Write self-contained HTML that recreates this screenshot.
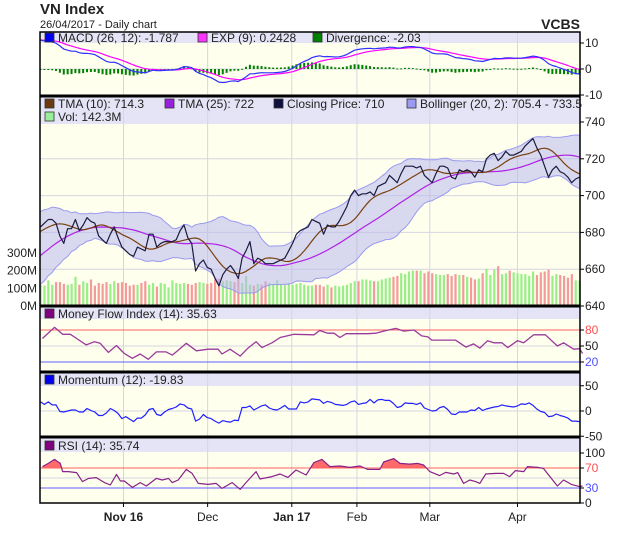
<!DOCTYPE html>
<html><head><meta charset="utf-8"><style>
body{margin:0;background:#fff;}
svg{display:block;font-family:"Liberation Sans",sans-serif;}
</style></head><body>
<svg id="c" width="620" height="535" viewBox="0 0 620 535">
<text x="40" y="14" font-size="15" font-weight="bold" fill="#222">VN Index</text>
<text x="40" y="28" font-size="11" fill="#222">26/04/2017 - Daily chart</text>
<text x="580" y="29" font-size="14" font-weight="bold" fill="#222" text-anchor="end">VCBS</text>
<g id="layer"></g>
</svg>
<script>
// ---- data ----
const priorClose=[615,620,617,624,621,628,625,631,629,635,632,639,636,642,640,646,643,650,647,653,651,657,654,661,658,664,662,668,665,672,669,675,673,679,676,682,680,685,683,686];
const close=[683,685,687,687,685,678,674,682,682,687,681,684,688,686,685,678,676,674,679,683,677,672,670,668,667,672,671,670,679,679,672,674,675,675,675,676,681,684,677,674,659,663,665,661,660,655,651,657,660,662,659,655,666,670,675,663,666,665,663,663,663,664,665,666,670,674,679,681,682,683,687,686,685,679,684,683,683,686,690,694,700,703,700,701,701,702,700,705,706,707,711,709,707,712,716,716,716,715,716,711,709,707,712,716,716,715,710,709,714,713,714,713,710,714,713,720,722,723,719,721,724,722,722,723,724,727,729,731,726,722,716,710,714,716,713,712,710,707,709,710];
const volume=[120,115,145,120,135,135,125,120,125,165,120,140,130,150,115,130,125,135,125,140,130,135,130,115,120,120,130,140,120,130,110,130,125,105,145,130,125,130,125,120,130,135,130,125,130,150,155,140,145,140,135,165,130,170,120,115,125,120,140,130,125,145,125,120,130,120,125,130,120,115,115,120,120,110,120,105,115,110,115,120,130,140,140,150,150,145,140,140,150,155,160,165,170,185,180,195,200,200,200,185,195,185,180,175,175,180,170,180,175,175,165,160,150,155,185,210,175,205,225,180,185,200,190,185,180,180,170,195,175,190,195,205,170,180,175,170,160,180,145,142];
const mfiDay=[0.5,3.6,5.7,7.7,9.3,11.8,13.9,15.4,17.5,19.6,21.6,23.7,25.7,27.8,29.9,32.4,34,35.5,37.6,40.2,43.2,45.8,46.8,48.9,51.5,53.5,55.6,57.1,59.7,61.8,65.4,70.5,72,74.1,75.7,77.2,78.8,81.3,84.4,86.5,88.5,91.6,93.7,96.3,98.3,99.9,100.9,107,109.7,111.7,113.3,115.3,116.9,119,120.5,123,124.6,127.2,130.2,133.3,134.9,137.5,139,139.8];
const mfiVal=[64,85,72,72,64,52,58,55,38,51,36,27,35,25,39,39,33,42,55,41,44,44,35,44,31,46,58,47,56,66,72,71,79,74,74,66,73,73,73,74,78,83,78,80,69,67,61,61,48,54,46,60,56,56,47,60,56,71,71,50,56,44,45,36];
const rsiDay=[0.5,2,3.6,5.1,5.7,7.2,9.3,10.8,12.4,14.4,16.5,18,19.6,20.6,21.6,23.7,25.7,27.3,29.9,31.4,33,34,35.5,37.6,39.1,40.7,43.2,45.3,46.8,49.4,51.5,53,55.6,56.6,59.7,61.8,63.8,65.9,68.5,70.5,72.6,74.6,77.2,79.8,82.4,84.4,87.5,88.5,91.1,92.7,95.2,97.3,98.8,100.4,102.9,104.5,106.6,107.6,109.1,110.7,112.2,113.3,114.8,117.4,119.4,121,122.5,124.6,125.6,128.2,129.7,133.3,134.9,136.9,139,139.8];
const rsiVal=[72.7,79.3,87.3,79.3,62.7,62.7,60.7,42.7,49.3,50.7,40.7,36,57.3,44,44,31.3,40.7,34,49.3,46,49.3,40.7,46,67.3,59.3,39.3,37.3,39.3,29.3,40.7,27.3,40.7,62.7,48,52.7,58,51.3,66,56,80.7,87.3,72.7,74,71.3,74,67.3,67.3,82,88.7,79.3,77.8,79.3,76,62.7,54.7,61.3,58,60.7,39.3,46,42.7,39.3,58,59.3,59.3,52.7,64.7,62.7,72.7,71.3,69.3,34,46,37.3,32.7,34];
const macdTicks=[10,0,-10], priceTicks=[740,720,700,680,660,640], volTicks=[300,200,100,0];
const mfiTicks=[80,50,20], momTicks=[50,0,-50], rsiTicks=[100,70,30,0];
const monthLabels=["Nov 16","Dec","Jan 17","Feb","Mar","Apr"];
const monthDay=[21.4,43.1,64.8,81.6,100.4,123];
const monthBold=[true,false,true,false,false,false];

// ---- geometry ----
const X0=40,X1=580,N=close.length;
const xs=i=>X0+0.5+i*(X1-X0-1)/(N-1);
const yMacd=v=>69-v*2.6, yPrice=v=>306-(v-640)*1.84, yVol=v=>306-v*0.177;
const yMfi=v=>346-(v-50)*0.533, yMom=v=>411-v*0.505, yRsi=v=>503-v*0.5;
const NS="http://www.w3.org/2000/svg", L=document.getElementById('layer');
function mk(tag,at,parent){const e=document.createElementNS(NS,tag);for(const k in at)e.setAttribute(k,at[k]);(parent||L).appendChild(e);return e;}
function pl(vals,fx,fy,color,w,name){const d=vals.map((v,i)=>(i?'L':'M')+fx(i).toFixed(1)+' '+fy(v).toFixed(1)).join('');const p=mk('path',{d:d,fill:'none',stroke:color,'stroke-width':w,'stroke-linejoin':'round'});return p;}
function txt(x,y,s,at){const t=mk('text',Object.assign({x:x,y:y,'font-size':12,fill:'#222'},at||{}));t.textContent=s;return t;}

// ---- indicators ----
const all=priorClose.concat(close),P=priorClose.length;
function sma(a,n){return a.map((v,i)=>{const s=a.slice(Math.max(0,i-n+1),i+1);return s.reduce((x,y)=>x+y,0)/s.length;});}
function ema(a,n){const k=2/(n+1);let r=[];a.forEach((v,i)=>r.push(i?r[i-1]+k*(v-r[i-1]):v));return r;}
const tma10=sma(sma(all,6),5).slice(P), tma25=sma(sma(all,13),13).slice(P);
const bU=[],bL=[];
for(let i=P;i<all.length;i++){const s=all.slice(i-19,i+1),m=s.reduce((a,b)=>a+b)/20,sd=Math.sqrt(s.reduce((a,b)=>a+(b-m)*(b-m),0)/20);bU.push(m+2*sd);bL.push(m-2*sd);}
const e12=ema(all,12),e26=ema(all,26),macdAll=e12.map((v,i)=>v-e26[i]),sigAll=ema(macdAll,9);
const macd=macdAll.slice(P),sig=sigAll.slice(P),div=macd.map((v,i)=>v-sig[i]);
const mom=close.map((v,i)=>v-all[P+i-12]);

// ---- panels ----
const panels=[{n:'macd',t:32,h:43,b:96},{n:'price',t:96,h:124,b:306},{n:'mfi',t:306,h:319,b:372},{n:'momentum',t:372,h:386,b:437},{n:'rsi',t:437,h:452,b:503}];
panels.forEach(p=>{
 const hb=mk('rect',{x:X0,y:p.t,width:X1-X0,height:p.h-p.t,fill:'#e4e4f6'});
 const pb=mk('rect',{x:X0,y:p.h,width:X1-X0,height:p.b-p.h,fill:'#ffffee'});
 monthDay.forEach(d=>{const g=mk('line',{x1:xs(d),x2:xs(d),y1:p.t,y2:p.b,stroke:'#d6d6e0','stroke-width':1});});
});
function hline(y,c,name){const l=mk('line',{x1:X0,x2:X1,y1:y,y2:y,stroke:c,'stroke-width':1});}
function rtick(y,s,c,name){mk('line',{x1:X1,x2:X1+4,y1:y,y2:y,stroke:'#000'});const t=txt(X1+5,y+4,s,{fill:c||'#222'});}

// MACD
hline(yMacd(0),'#d6d6e0','macd-zero-line');
div.forEach((v,i)=>{const r=mk('rect',{x:xs(i)-1,y:Math.min(yMacd(v),yMacd(0)),width:2,height:Math.max(1,Math.abs(yMacd(v)-yMacd(0))),fill:'#008000'});});
pl(sig,xs,yMacd,'#ff00ff',1.2,'exp-signal-line');
pl(macd,xs,yMacd,'#3030ff',1.2,'macd-line');
macdTicks.forEach(v=>rtick(yMacd(v),String(v),null,'macd-tick-label'));

// Price
priceTicks.slice(1,5).forEach(v=>hline(yPrice(v),'#d6d6e0','price-gridline'));
volume.forEach((v,i)=>{const up=i==0||close[i]>=close[i-1];const r=mk('rect',{x:xs(i)-1,y:yVol(v),width:2.2,height:306-yVol(v),fill:up?'#99ee88':'#f59a9a'});});
const bd=bU.map((v,i)=>(i?'L':'M')+xs(i).toFixed(1)+' '+yPrice(v).toFixed(1)).join('')+bL.map((v,j)=>{const i=N-1-j;return 'L'+xs(i).toFixed(1)+' '+yPrice(bL[i]).toFixed(1);}).join('')+'Z';
const band=mk('path',{d:bd,fill:'#b8b8ee','fill-opacity':0.55,stroke:'none'});
pl(bU,xs,yPrice,'#9a9af0',1,'bollinger-upper');pl(bL,xs,yPrice,'#9a9af0',1,'bollinger-lower');
pl(tma25,xs,yPrice,'#b020e8',1.2,'tma25-line');
pl(tma10,xs,yPrice,'#7a4010',1.2,'tma10-line');
pl(close,xs,yPrice,'#1a1a40',1.2,'closing-price-line');
priceTicks.forEach(v=>rtick(yPrice(v),String(v),null,'price-tick-label'));
volTicks.forEach(v=>{const t=txt(37,yVol(v)+4,v+'M',{'text-anchor':'end'});});

// MFI
hline(yMfi(50),'#d6d6e0','mfi-mid-line');hline(yMfi(80),'#ff6060','mfi-overbought-line');hline(yMfi(20),'#6060ff','mfi-oversold-line');
pl(mfiVal,i=>xs(mfiDay[i]),yMfi,'#9a3a9a',1.3,'mfi-line');
mfiTicks.forEach((v,k)=>rtick(yMfi(v),String(v),['#ff5050','#222','#5050ff'][k],'mfi-tick-label'));

// Momentum
hline(yMom(0),'#d6d6e0','momentum-zero-line');
pl(mom,xs,yMom,'#2020ff',1.2,'momentum-line');
momTicks.forEach(v=>rtick(yMom(v),String(v),null,'momentum-tick-label'));

// RSI
hline(yRsi(50),'#d6d6e0','rsi-mid-line');
const rx=i=>xs(rsiDay[i]);
const cp=mk('clipPath',{id:'above70'});mk('rect',{x:X0,y:452,width:X1-X0,height:yRsi(70)-452},cp);
const ad=rsiVal.map((v,i)=>(i?'L':'M')+rx(i).toFixed(1)+' '+yRsi(v).toFixed(1)).join('')+'L'+rx(rsiVal.length-1)+' '+yRsi(70)+'L'+rx(0)+' '+yRsi(70)+'Z';
const af=mk('path',{d:ad,fill:'#ff6a6a','clip-path':'url(#above70)'});
hline(yRsi(70),'#ff6060','rsi-overbought-line');hline(yRsi(30),'#6060ff','rsi-oversold-line');
pl(rsiVal,rx,yRsi,'#882288',1.2,'rsi-line');
rsiTicks.forEach((v,k)=>rtick(yRsi(v),String(v),['#222','#ff5050','#5050ff','#222'][k],'rsi-tick-label'));

// borders
const fr=mk('rect',{x:X0,y:32,width:X1-X0,height:503-32,fill:'none',stroke:'#000','stroke-width':1.5});
[96,306,372,437].forEach(y=>{const l=mk('line',{x1:X0,x2:X1,y1:y,y2:y,stroke:'#000','stroke-width':3});});

// x labels
monthLabels.forEach((s,k)=>{mk('line',{x1:xs(monthDay[k]),x2:xs(monthDay[k]),y1:503,y2:507,stroke:'#000'});const t=txt(xs(monthDay[k]),521,s,{'text-anchor':'middle','font-weight':monthBold[k]?'bold':'normal'});});

// legends
function leg(x,y,c,s,name){const r=mk('rect',{x:x,y:y-9,width:9,height:9,fill:c,stroke:'#333','stroke-width':0.8});const t=txt(x+13,y,s);}
leg(45,42,'#0000ee','MACD (26, 12): -1.787','legend-macd');
leg(198,42,'#ff33ff','EXP (9): 0.2428','legend-exp');
leg(313,42,'#008000','Divergence: -2.03','legend-divergence');
leg(45,108,'#6b3a10','TMA (10): 714.3','legend-tma10');
leg(165,108,'#9a20e0','TMA (25): 722','legend-tma25');
leg(274,108,'#101040','Closing Price: 710','legend-closing-price');
leg(407,108,'#9a9af0','Bollinger (20, 2): 705.4 - 733.5','legend-bollinger');
leg(45,121,'#99ee99','Vol: 142.3M','legend-volume');
leg(45,318,'#800080','Money Flow Index (14): 35.63','legend-mfi');
leg(45,384,'#0000ee','Momentum (12): -19.83','legend-momentum');
leg(45,450,'#800080','RSI (14): 35.74','legend-rsi');
</script>
</body></html>
